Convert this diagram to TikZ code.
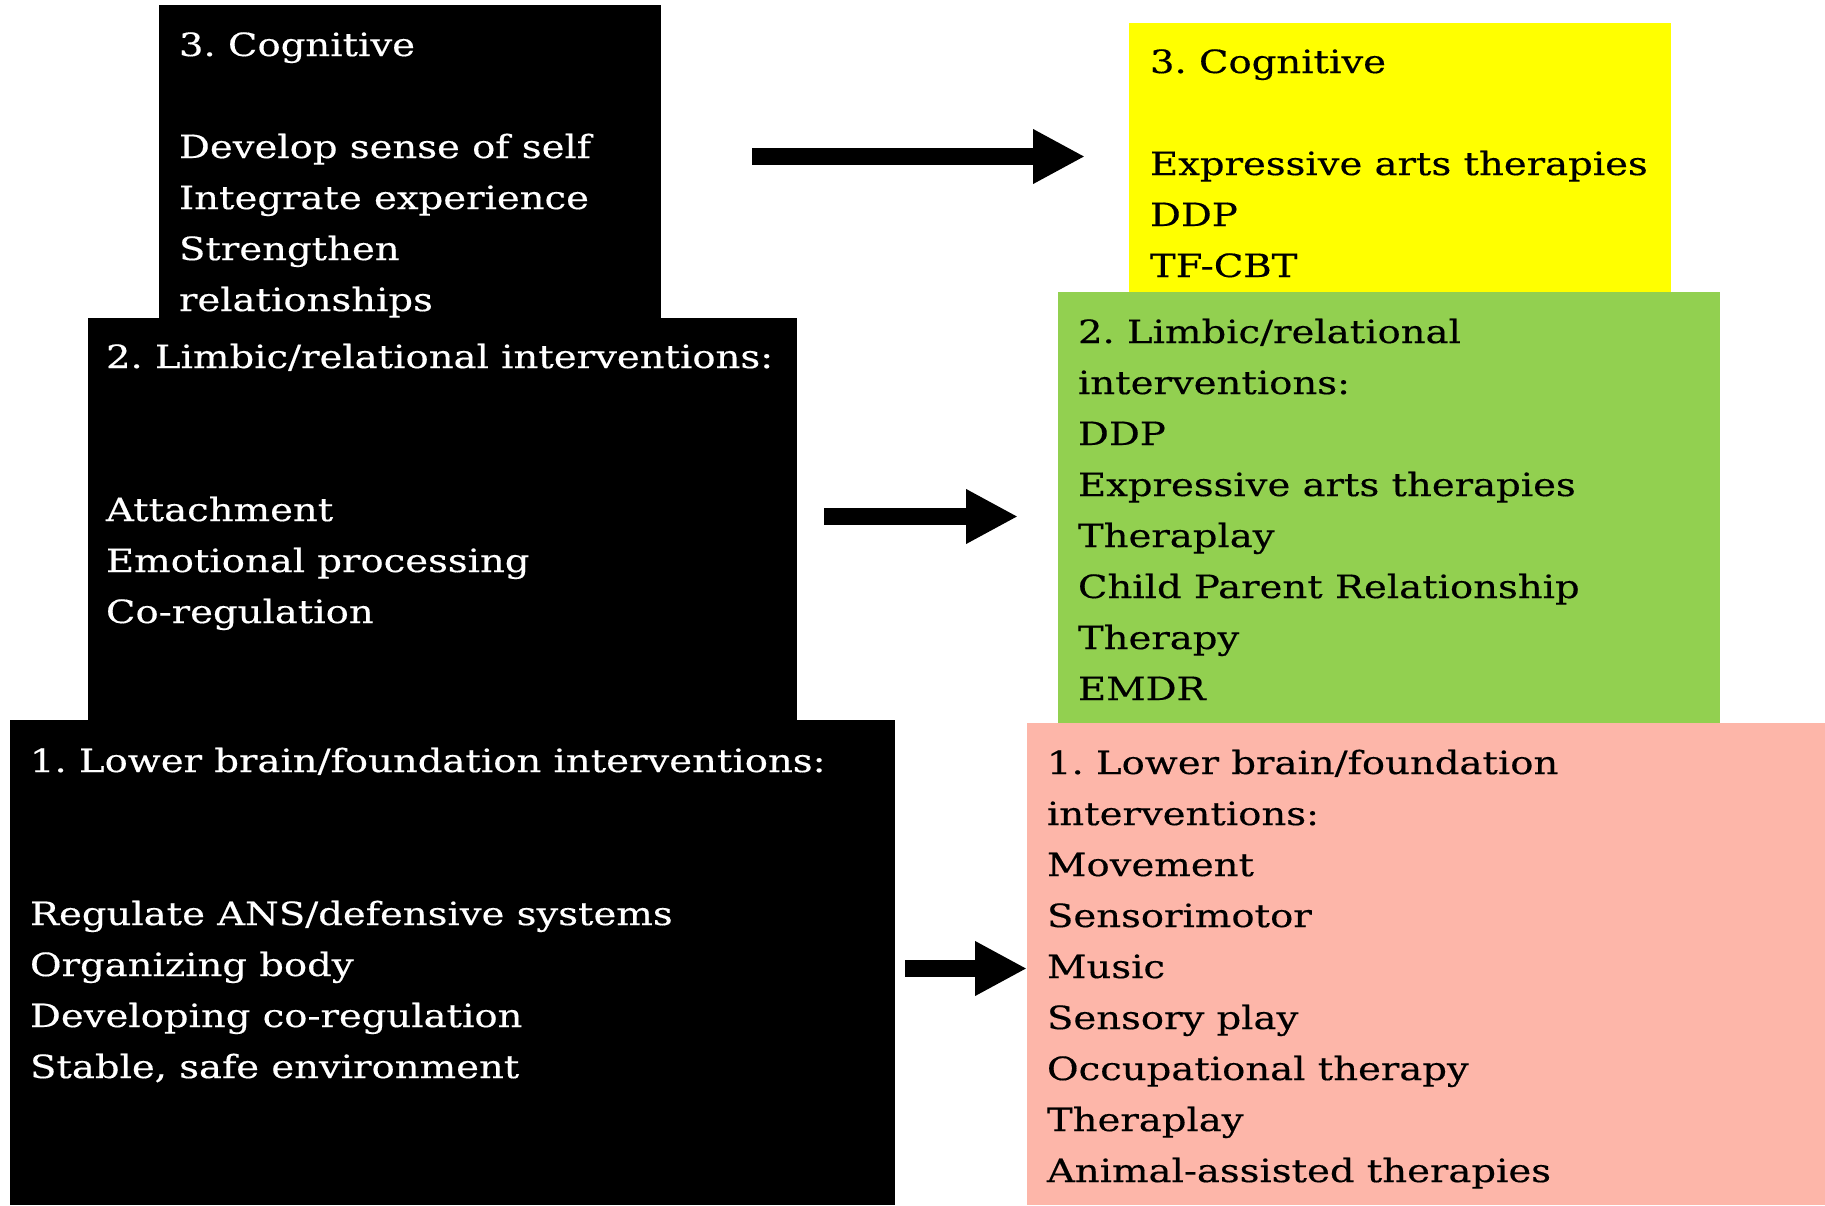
\documentclass[tikz,border=0pt]{standalone}
\usepackage{fontspec}
\newfontfamily\slab{DejaVu Serif}[FakeStretch=1.205,FakeBold=0.4]
\usetikzlibrary{arrows.meta}
\definecolor{cyel}{HTML}{FFFF00}
\definecolor{cgreen}{HTML}{92D050}
\definecolor{cpink}{HTML}{FDB6A9}
\tikzset{
  box/.style={anchor=north west, inner sep=0pt, outer sep=0pt, draw=none},
  txt/.style={anchor=base west, inner sep=0pt, outer sep=0pt, align=left,
    font=\slab\fontsize{32}{51}\selectfont},
  bigarrow/.style={line width=17pt, -{Triangle[length=52pt,width=51pt]}},
}
\frenchspacing
\begin{document}
\begin{tikzpicture}[x=1pt,y=-1pt]
\useasboundingbox (0,0) rectangle (1825,1205);
\fill[white] (0,0) rectangle (1825,1205);
% left black stack
\node[box, fill=black, minimum width=502pt, minimum height=315pt] (b3) at (159,5) {};
\node[box, fill=black, minimum width=709pt, minimum height=404pt] (b2) at (88,318) {};
\node[box, fill=black, minimum width=885pt, minimum height=485pt] (b1) at (10,720) {};
% right coloured stack
\node[box, fill=cyel, minimum width=542pt, minimum height=278pt] (y3) at (1129,23) {};
\node[box, fill=cgreen, minimum width=662pt, minimum height=431pt] (g2) at (1058,292) {};
\node[box, fill=cpink, minimum width=798pt, minimum height=482pt] (p1) at (1027,723) {};
% texts (anchored at the baseline of their last line)
\node[txt, text=white] (t3) at (179,311) {3. Cognitive\\[51pt]Develop sense of self\\Integrate experience\\Strengthen\\relationships};
\node[txt, text=white] (t2) at (106,623) {2. Limbic/relational interventions:\\[102pt]Attachment\\Emotional processing\\Co-regulation};
\node[txt, text=white] (t1) at (30,1078) {1. Lower brain/foundation interventions:\\[102pt]Regulate ANS/defensive systems\\Organizing body\\Developing co-regulation\\Stable, safe environment};
\node[txt, text=black] (u3) at (1150,277) {3. Cognitive\\[51pt]Expressive arts therapies\\DDP\\TF-CBT};
\node[txt, text=black] (u2) at (1078,700) {2. Limbic/relational\\interventions:\\DDP\\Expressive arts therapies\\Theraplay\\Child Parent Relationship\\Therapy\\EMDR};
\node[txt, text=black] (u1) at (1047,1182) {1. Lower brain/foundation\\interventions:\\Movement\\Sensorimotor\\Music\\Sensory play\\Occupational therapy\\Theraplay\\Animal-assisted therapies};
% arrows
\coordinate (a1s) at (752,156.5);
\coordinate (a1e) at (1085,156.5);
\coordinate (a2s) at (824,516.5);
\coordinate (a2e) at (1018,516.5);
\coordinate (a3s) at (905,968.5);
\coordinate (a3e) at (p1.west |- 0,968.5);
\draw[bigarrow] (a1s) -- (a1e);
\draw[bigarrow] (a2s) -- (a2e);
\draw[bigarrow] (a3s) -- (a3e);
\end{tikzpicture}
\end{document}
